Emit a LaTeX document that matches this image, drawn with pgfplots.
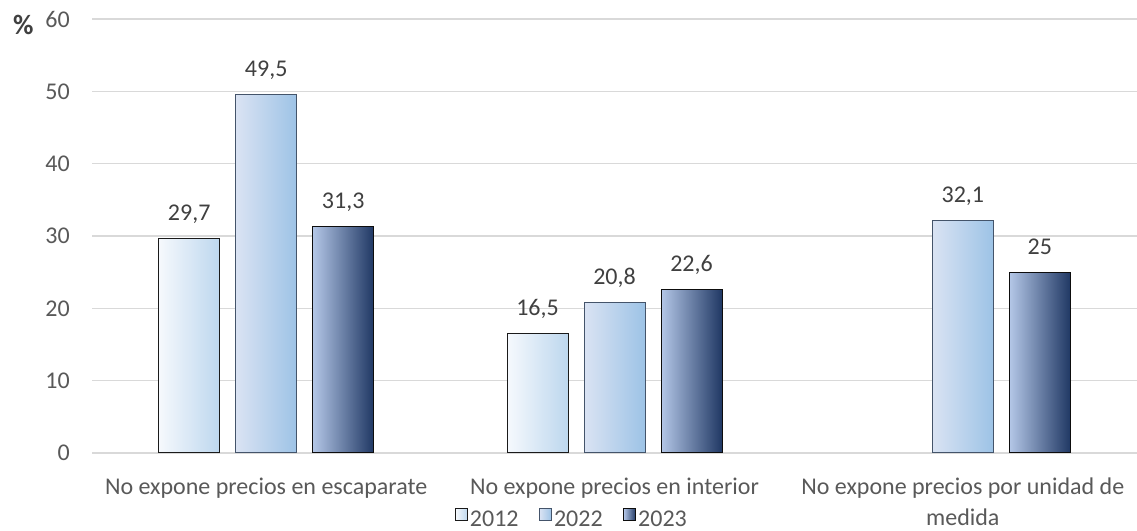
\documentclass[border=0pt]{standalone}
\usepackage{fontspec}
\setmainfont{Carlito}
\usepackage{pgfplots}
\pgfplotsset{compat=1.18}

% palette
\definecolor{txt}{HTML}{595959}
\definecolor{lbl}{HTML}{404040}
\definecolor{gridc}{HTML}{D9D9D9}
\definecolor{aL}{HTML}{F6F9FD}
\definecolor{aR}{HTML}{BDD7EE}
\definecolor{aE}{HTML}{1A1A1A}
\definecolor{bL}{HTML}{DAE3F3}
\definecolor{bR}{HTML}{9DC3E6}
\definecolor{bE}{HTML}{44546A}
\definecolor{cL}{HTML}{B4C7E7}
\definecolor{cM}{HTML}{8497B0}
\definecolor{cR}{HTML}{203864}
\definecolor{cE}{HTML}{0D0D0D}

\newcommand{\chartfont}{\fontsize{18}{23.25}\selectfont}

% one style per year; every bar is its own plot so that the
% gradient runs across each bar separately
\pgfplotsset{
  y2012/.style={draw=aE, line width=0.75pt, left color=aL, right color=aR,
                bar shift=-57.75pt},
  y2022/.style={draw=bE, line width=0.75pt, left color=bL, right color=bR,
                bar shift=0pt},
  y2023/.style={draw=cE, line width=0.75pt, left color=cL, middle color=cM,
                right color=cR, bar shift=57.75pt},
}

\begin{document}
\begin{tikzpicture}
\begin{axis}[
  at={(69pt,58.5pt)}, anchor=south west,
  scale only axis,
  width=783.75pt, height=325.5pt,
  xmin=-0.5, xmax=2.5,
  ymin=0, ymax=60,
  ytick={0,10,...,60},
  xtick={0,1,2},
  xticklabels={\strut No expone precios en escaparate,
               \strut No expone precios en interior,
               {\strut No expone precios por unidad de\\medida}},
  axis line style={draw=none},
  tick style={draw=none},
  ymajorgrids,
  major grid style={color=gridc, line width=1.1pt},
  /pgf/number format/assume math mode=true,
  /pgf/number format/use comma,
  /pgf/number format/1000 sep={},
  ticklabel style={font=\chartfont, text=txt},
  yticklabel style={anchor=east, inner sep=0pt, xshift=-16.5pt},
  xticklabel style={anchor=north, inner sep=0pt, yshift=-10.2pt, align=center},
  ybar,
  bar width=45.75pt,
  nodes near coords,
  nodes near coords style={font=\chartfont, text=lbl, anchor=base,
                           inner sep=0pt, yshift=13.5pt},
  clip=false,
  legend columns=3,
  legend style={at={(axis description cs:0.4593,-0.1532)}, anchor=center,
                draw=none, fill=none, inner sep=0pt,
                font=\chartfont, text=txt,
                nodes={inner sep=1.5pt},
                /tikz/every even column/.append style={column sep=14pt}},
  legend image code/.code={%
    \draw[#1, line width=0.6pt] (0pt,-0.5pt) rectangle (9pt,8.5pt);},
]
% first group (carries the legend)
\addplot[y2012] coordinates {(0,29.7)};
\addplot[y2022] coordinates {(0,49.5)};
\addplot[y2023] coordinates {(0,31.3)};
\legend{2012,2022,2023}
% second group
\addplot[y2012, forget plot] coordinates {(1,16.5)};
\addplot[y2022, forget plot] coordinates {(1,20.8)};
\addplot[y2023, forget plot] coordinates {(1,22.6)};
% third group (no 2012 value)
\addplot[y2022, forget plot] coordinates {(2,32.1)};
\addplot[y2023, forget plot] coordinates {(2,25)};

% unit marker beside the value axis
\node[font=\fontsize{21}{25}\selectfont\bfseries, text=lbl, anchor=base, inner sep=0pt]
  at (axis description cs:-0.0656,0.9654) {\%};
\end{axis}
\pgfresetboundingbox
\path[use as bounding box] (0,0) rectangle (852.75pt,398.25pt);
\end{tikzpicture}
\end{document}
